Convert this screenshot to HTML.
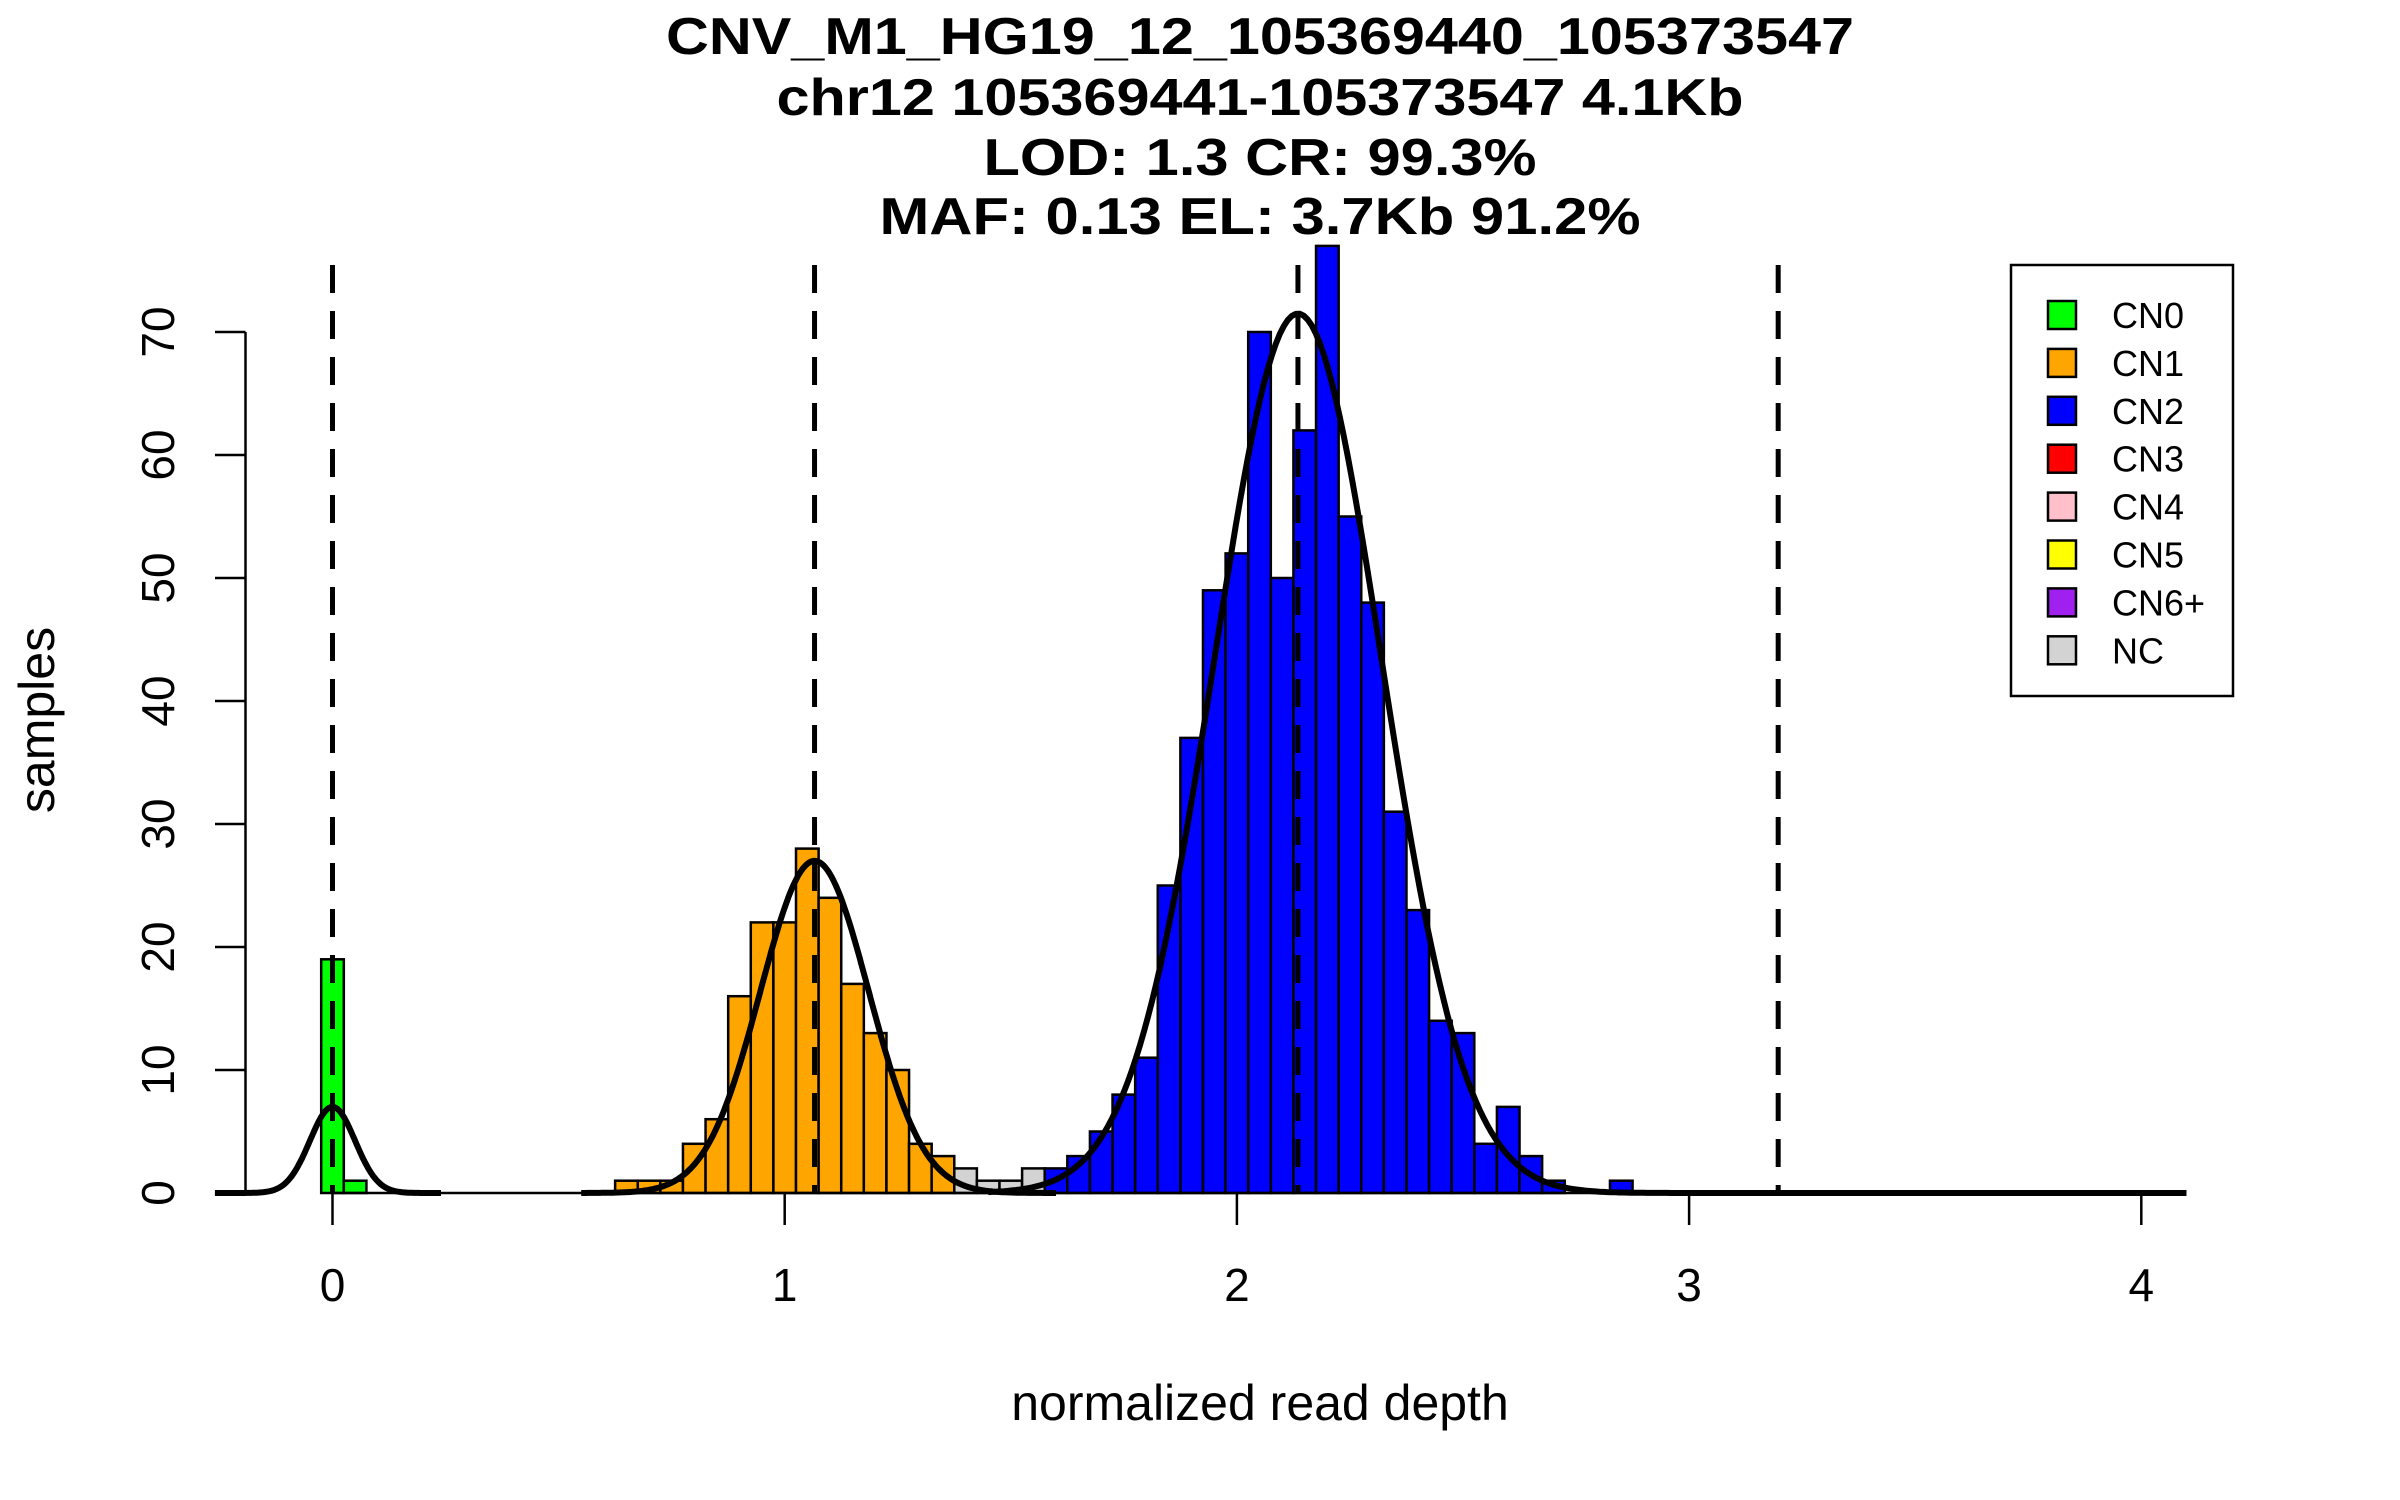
<!DOCTYPE html>
<html><head><meta charset="utf-8"><style>html,body{margin:0;padding:0;background:#fff}svg{display:block}text{font-family:"Liberation Sans",sans-serif}</style></head>
<body>
<svg id="chart" width="2400" height="1500" viewBox="0 0 2400 1500" xmlns="http://www.w3.org/2000/svg">
<rect width="2400" height="1500" fill="#fff"/>
<g font-weight="bold" font-size="52" text-anchor="middle">
<text x="1260" y="54" textLength="1188" lengthAdjust="spacingAndGlyphs">CNV_M1_HG19_12_105369440_105373547</text>
<text x="1260" y="115" textLength="967" lengthAdjust="spacingAndGlyphs">chr12 105369441-105373547 4.1Kb</text>
<text x="1260" y="175" textLength="553" lengthAdjust="spacingAndGlyphs">LOD: 1.3 CR: 99.3%</text>
<text x="1260" y="234" textLength="761" lengthAdjust="spacingAndGlyphs">MAF: 0.13 EL: 3.7Kb 91.2%</text>
</g>
<g id="bars"></g>
<g id="curves"></g>
<g id="dashes"></g>
<g id="axes"></g>
<text x="1260" y="1420" font-size="50" text-anchor="middle">normalized read depth</text>
<text transform="translate(54,720) rotate(-90)" font-size="50" text-anchor="middle">samples</text>
<g id="legend"></g>
</svg>
<script>
const binCenters = [0.00,0.05,0.65,0.70,0.75,0.80,0.85,0.90,0.95,1.00,1.05,1.10,1.15,1.20,1.25,1.30,1.35,1.40,1.45,1.50,1.55,1.60,1.65,1.70,1.75,1.80,1.85,1.90,1.95,2.00,2.05,2.10,2.15,2.20,2.25,2.30,2.35,2.40,2.45,2.50,2.55,2.60,2.65,2.70,2.85];
const binCounts  = [19,1,1,1,1,4,6,16,22,22,28,24,17,13,10,4,3,2,1,1,2,2,3,5,8,11,25,37,49,52,70,50,62,77,55,48,31,23,14,13,4,7,3,1,1];
const binClass   = ["CN0","CN0","CN1","CN1","CN1","CN1","CN1","CN1","CN1","CN1","CN1","CN1","CN1","CN1","CN1","CN1","CN1","NC","NC","NC","NC","CN2","CN2","CN2","CN2","CN2","CN2","CN2","CN2","CN2","CN2","CN2","CN2","CN2","CN2","CN2","CN2","CN2","CN2","CN2","CN2","CN2","CN2","CN2","CN2"];
const binWidth = 0.05;
const compMeans = [0, 1.066, 2.135];
const compPeaks = [7, 27, 71.5];
const compSds = [0.05, 0.12, 0.185];
const compRanges = [[-0.26,0.24],[0.55,1.6],[1.45,4.1]];
const dashPositions = [0, 1.066, 2.135, 3.197];
const xTicks = [0,1,2,3,4];
const yTicks = [0,10,20,30,40,50,60,70];
const legendLabels = ["CN0","CN1","CN2","CN3","CN4","CN5","CN6+","NC"];
const legendColors = ["#00ff00","#ffa500","#0000ff","#ff0000","#ffc0cb","#ffff00","#a020f0","#d3d3d3"];

const NS="http://www.w3.org/2000/svg";
const X=v=>332.5+v*452.2;
const Y=v=>1193-v*12.3;
const colorOf={}; legendLabels.forEach((l,i)=>colorOf[l]=legendColors[i]);
function mk(tag,attrs,parent){const e=document.createElementNS(NS,tag);for(const k in attrs)e.setAttribute(k,attrs[k]);parent.appendChild(e);return e;}

const gb=document.getElementById('bars');
binCenters.forEach((c,i)=>{
  const x0=X(c-binWidth/2),x1=X(c+binWidth/2);
  const r=mk('rect',{x:x0,y:Y(binCounts[i]),width:x1-x0,height:Y(0)-Y(binCounts[i]),fill:colorOf[binClass[i]],stroke:'#000','stroke-width':2.5},gb);
  
  
});

const gc=document.getElementById('curves');
compMeans.forEach((m,i)=>{
  let d='';
  const [a,b]=compRanges[i];
  for(let k=0;k<=300;k++){
    const v=a+(b-a)*k/300;
    const y=compPeaks[i]*Math.exp(-((v-m)**2)/(2*compSds[i]**2));
    d+=(k?'L':'M')+X(v).toFixed(1)+' '+Y(y).toFixed(1);
  }
  const p=mk('path',{d:d,fill:'none',stroke:'#000','stroke-width':6},gc);
  
  
});

const gd=document.getElementById('dashes');
dashPositions.forEach((v,i)=>{
  const l=mk('line',{x1:X(v),x2:X(v),y1:265,y2:1193,stroke:'#000','stroke-width':5,'stroke-dasharray':'28 18'},gd);
  
  
});

const ga=document.getElementById('axes');
const xl=mk('line',{x1:X(0),x2:X(4),y1:1193,y2:1193,stroke:'#000','stroke-width':2.5},ga);


xTicks.forEach(t=>{
  const tk=mk('line',{x1:X(t),x2:X(t),y1:1193,y2:1225,stroke:'#000','stroke-width':2.5},ga);
  
  
  const tx=mk('text',{x:X(t),y:1301,'font-size':46,'text-anchor':'middle'},ga);
  tx.textContent=t;
  
  
});
const yl=mk('line',{x1:245.5,x2:245.5,y1:Y(0),y2:Y(70),stroke:'#000','stroke-width':2.5},ga);


yTicks.forEach(t=>{
  const tk=mk('line',{x1:215,x2:245.5,y1:Y(t),y2:Y(t),stroke:'#000','stroke-width':2.5},ga);
  
  
  const tx=mk('text',{transform:'translate(174,'+Y(t)+') rotate(-90)','font-size':46,'text-anchor':'middle'},ga);
  tx.textContent=t;
  
  
});

const gl=document.getElementById('legend');
const box=mk('rect',{x:2011,y:265,width:222,height:431,fill:'#fff',stroke:'#000','stroke-width':2.5},gl);


legendLabels.forEach((l,i)=>{
  const cy=315+i*47.9;
  const g=mk('g',{},gl);
  
  
  mk('rect',{x:2048,y:cy-14,width:28,height:28,fill:legendColors[i],stroke:'#000','stroke-width':2.5},g);
  const t=mk('text',{x:2112,y:cy+13,'font-size':36},g);
  t.textContent=l;
});
</script>
</body></html>
